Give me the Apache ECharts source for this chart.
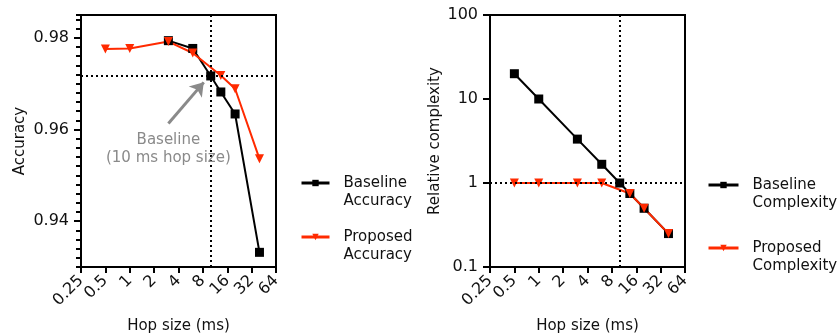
<!DOCTYPE html>
<html>
<head>
<meta charset="utf-8">
<script src="https://cdn.jsdelivr.net/npm/echarts@6/dist/echarts.min.js"></script>
<style>
  html, body { margin: 0; padding: 0; background: #fff; }
  #main { width: 837px; height: 335px; }
</style>
</head>
<body>
<div id="main"></div>
<script>
// hop sizes (ms)
var hopBaselineAcc = [3, 6, 10, 13.33, 20, 40];
var hopProposed = [0.5, 1, 3, 6, 13.33, 20, 40];
var hopBaselineCx = [0.5, 1, 3, 6, 10, 13.33, 20, 40];

// accuracy
var accBaseline = [0.9794, 0.9777, 0.9717, 0.9682, 0.9634, 0.9332];
var accProposed = [0.9776, 0.9777, 0.9792, 0.9767, 0.9718, 0.9689, 0.9536];

// relative complexity
var cxBaseline = [20, 10, 3.33, 1.67, 1, 0.75, 0.5, 0.25];
var cxProposed = [1, 1, 1, 1, 0.75, 0.5, 0.25];

var accTicks = [0.94, 0.96, 0.98];
var baselineHop = 10;
var baselineAcc = 0.9718;
var baselineCx = 1;

var BLACK = '#000';
var RED = '#ff2a00';
var GREY = '#8a8a8a';
var FONT = 'DejaVu Sans';

function pairs(xs, ys) {
  return xs.map(function (x, i) { return [x, ys[i]]; });
}
function fmtNum(v) {
  return String(+(+v).toPrecision(3));
}
// blank first line so the legend icon sits level with the first text line
function legendText(n) {
  return '\u00a0\n' + n.replace(' ', '\n');
}

var axisText = { color: '#111', fontSize: 16, fontFamily: FONT };
var nameText = { color: '#111', fontSize: 15, fontFamily: FONT };
var dotted = { color: BLACK, width: 2, type: [2, 3] };

function hopAxis(gridIndex) {
  return {
    type: 'log', logBase: 2, gridIndex: gridIndex,
    min: 0.25, max: 64, interval: 1,
    name: 'Hop size (ms)', nameLocation: 'middle', nameGap: 52,
    nameTextStyle: nameText,
    axisLine: { lineStyle: { color: BLACK, width: 2 } },
    axisTick: { length: 6, lineStyle: { color: BLACK, width: 2 } },
    axisLabel: Object.assign({ rotate: 45, margin: 11, formatter: fmtNum }, axisText),
    splitLine: { show: false }
  };
}

var chart = echarts.init(document.getElementById('main'));

chart.setOption({
  animation: false,
  backgroundColor: '#fff',
  textStyle: { fontFamily: FONT },
  grid: [
    { left: 81, top: 15, width: 195, height: 252, outerBoundsMode: 'none', containLabel: false,
      show: true, borderColor: BLACK, borderWidth: 2 },
    { left: 490, top: 15, width: 195, height: 252, outerBoundsMode: 'none', containLabel: false,
      show: true, borderColor: BLACK, borderWidth: 2 }
  ],
  xAxis: [hopAxis(0), hopAxis(1)],
  yAxis: [
    {
      type: 'value', gridIndex: 0, position: 'left', min: 0.93, max: 0.985,
      name: 'Accuracy', nameLocation: 'middle', nameGap: 53,
      nameTextStyle: nameText,
      axisLine: { show: true, lineStyle: { color: BLACK, width: 2 } },
      axisTick: { show: true, length: 7, customValues: accTicks, lineStyle: { color: BLACK, width: 2 } },
      axisLabel: Object.assign({ customValues: accTicks, margin: 12, formatter: function (v) { return (+v).toFixed(2); } }, axisText),
      splitLine: { show: false }
    },
    {
      type: 'value', gridIndex: 0, position: 'left', offset: 0, min: 0.93, max: 0.985, interval: 0.002,
      axisLine: { show: false },
      axisTick: { show: true, length: 5, lineStyle: { color: BLACK, width: 2 } },
      axisLabel: { show: false },
      splitLine: { show: false }
    },
    {
      type: 'log', logBase: 10, gridIndex: 1, position: 'left', min: 0.1, max: 100, interval: 1,
      name: 'Relative complexity', nameLocation: 'middle', nameGap: 47,
      nameTextStyle: nameText,
      axisLine: { show: true, lineStyle: { color: BLACK, width: 2 } },
      axisTick: { show: true, length: 7, lineStyle: { color: BLACK, width: 2 } },
      axisLabel: Object.assign({ margin: 12, formatter: fmtNum }, axisText),
      splitLine: { show: false }
    }
  ],
  legend: [
    {
      orient: 'vertical', left: 300, top: 156, padding: 0, itemGap: 0,
      itemWidth: 28, itemHeight: 8, lineStyle: { width: 3 },
      data: ['Baseline Accuracy', 'Proposed Accuracy'],
      formatter: legendText,
      textStyle: { color: '#111', fontSize: 15, lineHeight: 18, fontFamily: FONT, padding: [0, 0, 0, 9] }
    },
    {
      orient: 'vertical', left: 707, top: 158, padding: 0, itemGap: 9,
      itemWidth: 30, itemHeight: 8, lineStyle: { width: 3 },
      data: ['Baseline Complexity', 'Proposed Complexity'],
      formatter: legendText,
      textStyle: { color: '#111', fontSize: 15, lineHeight: 18, fontFamily: FONT, padding: [0, 0, 0, 9] }
    }
  ],
  series: [
    {
      name: 'Baseline Accuracy', type: 'line', xAxisIndex: 0, yAxisIndex: 0,
      data: pairs(hopBaselineAcc, accBaseline),
      symbol: 'rect', symbolSize: 9,
      itemStyle: { color: BLACK }, lineStyle: { color: BLACK, width: 2 },
      markLine: {
        silent: true, symbol: 'none', precision: 4, label: { show: false }, lineStyle: dotted,
        data: [{ xAxis: baselineHop }, { yAxis: baselineAcc }]
      }
    },
    {
      name: 'Proposed Accuracy', type: 'line', xAxisIndex: 0, yAxisIndex: 0,
      data: pairs(hopProposed, accProposed),
      symbol: 'triangle', symbolRotate: 180, symbolSize: 9,
      itemStyle: { color: RED }, lineStyle: { color: RED, width: 2 },
      markLine: {
        silent: true, symbol: ['none', 'arrow'], symbolSize: 13, precision: 4,
        label: { show: false },
        lineStyle: { color: GREY, width: 3, type: 'solid' },
        data: [[{ coord: [3, 0.9613] }, { coord: [8.2, 0.9703] }]]
      },
      markPoint: {
        silent: true, symbol: 'circle', symbolSize: 0,
        label: {
          show: true, position: 'inside', formatter: 'Baseline\n(10 ms hop size)',
          color: GREY, fontSize: 15, lineHeight: 18, fontFamily: FONT
        },
        data: [{ coord: [3, 0.9558] }]
      }
    },
    {
      name: 'Baseline Complexity', type: 'line', xAxisIndex: 1, yAxisIndex: 2,
      data: pairs(hopBaselineCx, cxBaseline),
      symbol: 'rect', symbolSize: 9,
      itemStyle: { color: BLACK }, lineStyle: { color: BLACK, width: 2 },
      markLine: {
        silent: true, symbol: 'none', precision: 4, label: { show: false }, lineStyle: dotted,
        data: [{ xAxis: baselineHop }, { yAxis: baselineCx }]
      }
    },
    {
      name: 'Proposed Complexity', type: 'line', xAxisIndex: 1, yAxisIndex: 2,
      data: pairs(hopProposed, cxProposed),
      symbol: 'triangle', symbolRotate: 180, symbolSize: 9,
      itemStyle: { color: RED }, lineStyle: { color: RED, width: 2 }
    }
  ]
});
</script>
</body>
</html>
